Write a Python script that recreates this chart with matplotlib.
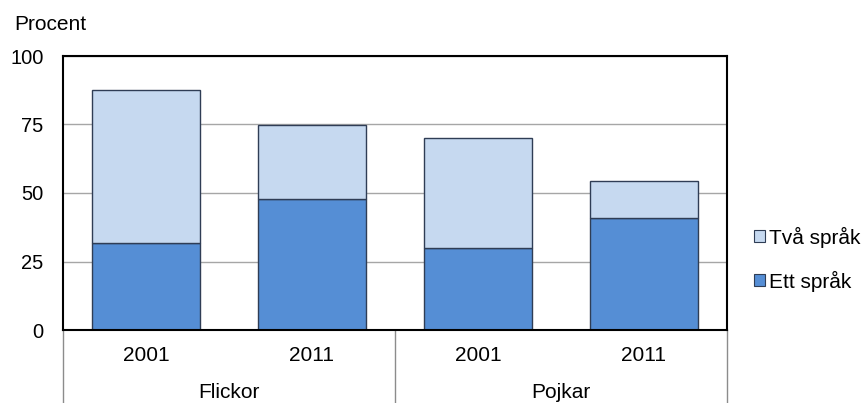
import numpy as np
import matplotlib
import matplotlib.pyplot as plt
from matplotlib.patches import Patch
matplotlib.use('Agg')

plt.rcParams['font.family'] = ['Liberation Sans', 'DejaVu Sans']

years = ['2001', '2011', '2001', '2011']
groups = ['Flickor', 'Pojkar']
ett_sprak = [31.6, 47.8, 29.9, 40.9]
tva_sprak = [56.0, 27.0, 40.1, 13.6]

fs = 15
fig = plt.figure(figsize=(8.64, 4.03), dpi=100)
ax = fig.add_axes([63 / 864, 73 / 403, 664 / 864, 274 / 403])

index = np.arange(len(years))
bar_width = 0.645
dark = '#558ED5'
light = '#C6D9F0'
edge = '#2F3D55'

ax.bar(index, ett_sprak, bar_width, color=dark, edgecolor=edge, linewidth=1.0, zorder=3)
ax.bar(index, tva_sprak, bar_width, bottom=ett_sprak, color=light, edgecolor=edge,
       linewidth=1.0, zorder=3)

ax.set_xlim(-0.5, 3.5)
ax.set_ylim(0, 100)
ax.set_yticks([0, 25, 50, 75, 100])
ax.tick_params(axis='y', length=0, labelsize=14.5, pad=14)
ax.set_xticks([])
ax.yaxis.grid(True, color='#A6A6A6', linewidth=1.0, zorder=0)
for s in ax.spines.values():
    s.set_color('black')
    s.set_linewidth(1.5)
    s.set_zorder(4)

# category labels under the axis
for i, y in enumerate(years):
    ax.text(i, -9.2, y, ha='center', va='center', fontsize=fs, clip_on=False)
for g, name in enumerate(groups):
    ax.text(2 * g + 0.5, -22.8, name, ha='center', va='center', fontsize=fs,
            clip_on=False)
for xs in [-0.5, 1.5, 3.5]:
    ax.plot([xs, xs], [0, -30], color='#8C8C8C', linewidth=1.0, clip_on=False)

fig.text(14 / 864, 1 - 25 / 403, 'Procent', ha='left', va='center', fontsize=fs)

handles = [Patch(facecolor=light, edgecolor=edge, linewidth=0.8),
           Patch(facecolor=dark, edgecolor=edge, linewidth=0.8)]
leg = fig.legend(handles, ['Två språk', 'Ett språk'], loc='center left',
                 bbox_to_anchor=(754 / 864, 1 - 259 / 403), frameon=False,
                 fontsize=fs, handlelength=0.53, handleheight=0.53,
                 handletextpad=0.2, labelspacing=1.1, borderpad=0,
                 borderaxespad=0)

plt.savefig('out.png', dpi=100)
